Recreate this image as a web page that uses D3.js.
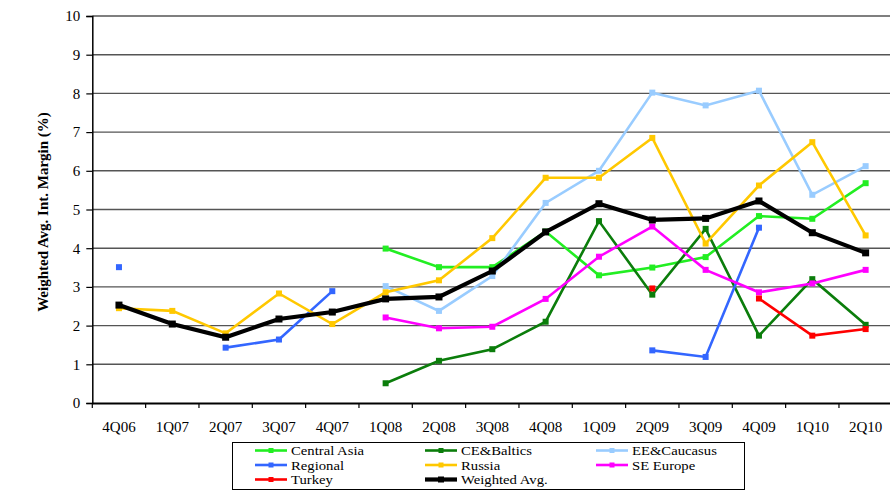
<!DOCTYPE html>
<html><head><meta charset="utf-8">
<script src="https://cdn.jsdelivr.net/npm/d3@7/dist/d3.min.js"></script>
<style>body{margin:0;background:#fff}svg{display:block}svg text{font-family:"Liberation Serif","Times New Roman",Times,"DejaVu Serif",serif}</style>
</head><body><svg id="c" width="890" height="490"></svg>
<script>
const categories = ["4Q06","1Q07","2Q07","3Q07","4Q07","1Q08","2Q08","3Q08","4Q08","1Q09","2Q09","3Q09","4Q09","1Q10","2Q10"];
const yTicks = [0,1,2,3,4,5,6,7,8,9,10];
const seriesNames = ["Central Asia","CE&Baltics","EE&Caucasus","Regional","Russia","SE Europe","Turkey","Weighted Avg."];
const centralAsia = [null,null,null,null,null,3.99,3.51,3.51,4.43,3.30,3.50,3.77,4.83,4.76,5.68];
const ceBaltics   = [null,null,null,null,null,0.51,1.09,1.39,2.10,4.70,2.80,4.50,1.74,3.20,2.02];
const eeCaucasus  = [null,null,null,null,null,3.02,2.38,3.28,5.17,6.00,8.02,7.69,8.07,5.38,6.12];
const regional    = [3.51,null,1.43,1.64,2.89,null,null,null,null,null,1.36,1.19,4.53,null,null];
const russia      = [2.45,2.38,1.80,2.83,2.04,2.86,3.17,4.26,5.82,5.82,6.85,4.12,5.62,6.74,4.33];
const seEurope    = [null,null,null,null,null,2.21,1.93,1.97,2.69,3.78,4.56,3.44,2.86,3.09,3.44];
const turkey      = [null,null,null,null,null,null,null,null,null,null,2.96,null,2.70,1.74,1.91];
const weighted    = [2.53,2.04,1.70,2.17,2.35,2.69,2.74,3.41,4.42,5.15,4.73,4.77,5.22,4.40,3.88];

const series = [
  {name:seriesNames[0], values:centralAsia, color:"#22ee22", w:2.6, m:6},
  {name:seriesNames[1], values:ceBaltics,   color:"#0b7d0b", w:2.6, m:6},
  {name:seriesNames[2], values:eeCaucasus,  color:"#99ccff", w:2.6, m:6},
  {name:seriesNames[3], values:regional,    color:"#3366ff", w:2.6, m:6},
  {name:seriesNames[4], values:russia,      color:"#ffc800", w:2.6, m:6},
  {name:seriesNames[5], values:seEurope,    color:"#ff00ff", w:2.6, m:6},
  {name:seriesNames[6], values:turkey,      color:"#ff0000", w:2.6, m:6},
  {name:seriesNames[7], values:weighted,    color:"#000000", w:4.2, m:7}
];

const svg = d3.select("#c");
const pLeft = 92.3, pRight = 892.3, pTop = 16, pBottom = 403;
const x = d3.scaleBand().domain(categories).range([pLeft, pRight]).padding(0);
const cx = c => x(c) + x.bandwidth()/2;
const y = d3.scaleLinear().domain([0,10]).range([pBottom, pTop]);

// gridlines
svg.append("g").selectAll("line").data(yTicks.filter(t=>t>0)).join("line")
  .attr("x1", pLeft).attr("x2", pRight).attr("y1", d=>y(d)).attr("y2", d=>y(d))
  .attr("stroke","#555").attr("stroke-width",1.4);

// y axis
const ya = svg.append("g").attr("transform",`translate(${pLeft},0)`)
  .call(d3.axisLeft(y).tickValues(yTicks).tickSize(6).tickPadding(6).tickFormat(d3.format("d")));
ya.attr("font-family",null);
ya.select(".domain").attr("stroke","#000").attr("stroke-width",1.5);
ya.selectAll(".tick line").attr("stroke","#000").attr("stroke-width",1.2);
ya.selectAll("text").attr("font-size",15).attr("fill","#000");

// x axis
const xa = svg.append("g").attr("transform",`translate(0,${pBottom})`)
  .call(d3.axisBottom(x).tickSize(0).tickPadding(18));
xa.attr("font-family",null);
xa.select(".domain").attr("stroke","#000").attr("stroke-width",2);
xa.selectAll("text").attr("font-size",15).attr("fill","#000");
svg.append("g").selectAll("line").data(categories.map(c=>x(c)).concat([pRight])).join("line")
  .attr("x1",d=>d).attr("x2",d=>d).attr("y1",pBottom).attr("y2",pBottom+5)
  .attr("stroke","#000").attr("stroke-width",1.2);

// y label
svg.append("text").attr("transform","translate(48,212) rotate(-90)")
  .attr("text-anchor","middle").attr("font-size",15).attr("font-weight","bold")
  .text("Weighted Avg. Int. Margin (%)");

// series
const line = d3.line().defined(d=>d.v!=null).x(d=>cx(d.c)).y(d=>y(d.v));
series.forEach(s=>{
  const pts = categories.map((c,i)=>({c, v:s.values[i]}));
  svg.append("path").datum(pts).attr("d",line).attr("fill","none")
    .attr("stroke",s.color).attr("stroke-width",s.w).attr("stroke-linejoin","miter");
  svg.append("g").selectAll("rect").data(pts.filter(p=>p.v!=null)).join("rect")
    .attr("x",p=>cx(p.c)-s.m/2).attr("y",p=>y(p.v)-s.m/2).attr("width",s.m).attr("height",s.m)
    .attr("fill",s.color);
});

// legend
const lg = svg.append("g");
lg.append("rect").attr("x",232.5).attr("y",442.5).attr("width",512).attr("height",47)
  .attr("fill","#fff").attr("stroke","#000").attr("stroke-width",1);
const colX = [255, 425, 596];
const rowY = [450.5, 465, 479.5];
series.forEach((s,i)=>{
  const col = i%3, row = Math.floor(i/3);
  const lx = colX[col], ly = rowY[row];
  lg.append("line").attr("x1",lx).attr("x2",lx+32).attr("y1",ly).attr("y2",ly)
    .attr("stroke",s.color).attr("stroke-width",s.w);
  lg.append("rect").attr("x",lx+16-s.m/2+0.5).attr("y",ly-s.m/2+0.5).attr("width",s.m-1).attr("height",s.m-1).attr("fill",s.color);
  const t = lg.append("text").attr("x",lx+36).attr("y",ly+4.5).attr("font-size",13)
    .text(s.name);
  const w = t.node().getComputedTextLength();
  t.attr("textLength", w*1.13).attr("lengthAdjust","spacingAndGlyphs");
});
</script></body></html>
